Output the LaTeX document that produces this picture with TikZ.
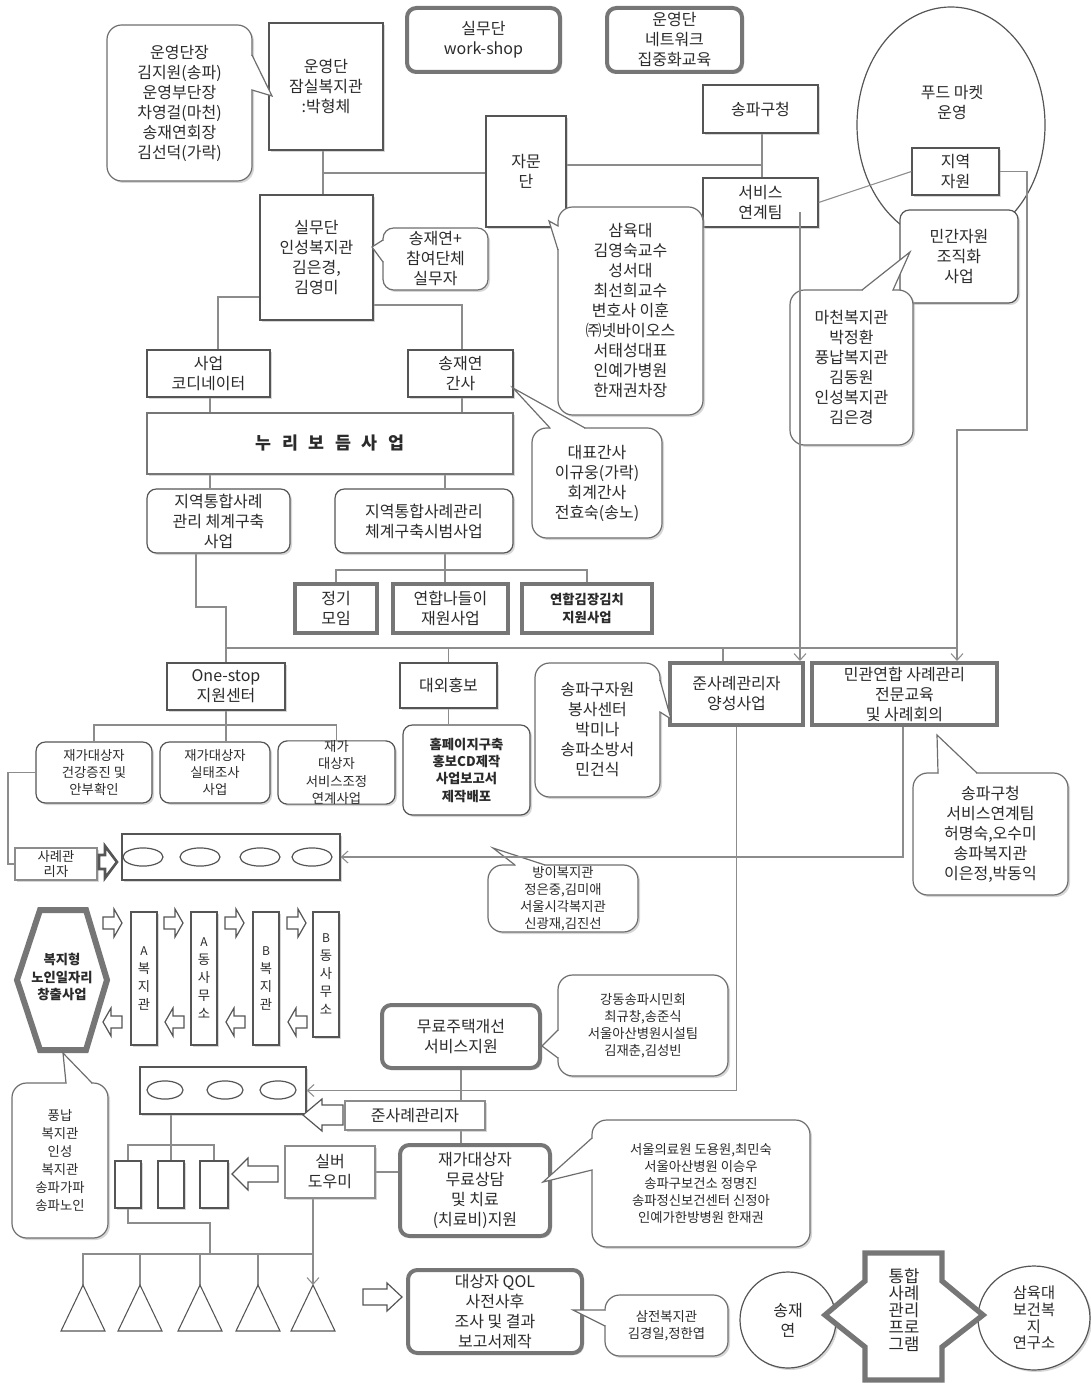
\documentclass[tikz,border=0pt]{standalone}
\usepackage{fontspec}
\setmainfont{Noto Sans CJK KR}
\usetikzlibrary{arrows.meta,shadows,shapes.geometric,backgrounds}
\definecolor{bd}{HTML}{555555}
\definecolor{ln}{HTML}{8C8C8C}
\definecolor{tk}{HTML}{767676}
\definecolor{tx}{HTML}{2B2B2B}
\newcommand\myN{\fontsize{12}{15}\selectfont}
\newcommand\myS{\fontsize{10}{12.8}\selectfont}
\newcommand\mySB{\fontsize{10}{13}\selectfont\bfseries}
\newcommand\myH{\fontsize{10}{13.5}\selectfont}
\newcommand\myC{\fontsize{12.5}{12.7}\selectfont}
\newcommand\myE{\fontsize{11.5}{12.5}\selectfont}
\newcommand\myL[1]{{\fontsize{9}{13.5}\selectfont #1}}
\newcommand\mybox[7][]{%
 \pgfmathsetmacro\bw{(#5-#3)*0.75}%
 \pgfmathsetmacro\bh{(#6-#4)*0.75}%
 \node[inner sep=0pt,minimum width=\bw pt,minimum height=\bh pt,#1] (#2) at ({(#3+#5)/2},{(#4+#6)/2}) {#7};}
\newcommand\ptr[6]{%
 \fill[white] (#1,#2) -- (#5,#6) -- (#3,#4) -- cycle;
 \draw[white,line width=1.8pt,shorten <=0.7pt,shorten >=0.7pt] (#1,#2) -- (#3,#4);
 \draw[bd!85,line width=0.9pt] (#1,#2) -- (#5,#6) -- (#3,#4);}
\newcommand\rarr[6]{\draw[blk] (#1,{#3-#4}) -- ({#2-#6},{#3-#4}) -- ({#2-#6},{#3-#5}) -- (#2,#3) -- ({#2-#6},{#3+#5}) -- ({#2-#6},{#3+#4}) -- (#1,{#3+#4}) -- cycle;}
\newcommand\larr[6]{\draw[blk] (#2,{#3-#4}) -- ({#1+#6},{#3-#4}) -- ({#1+#6},{#3-#5}) -- (#1,#3) -- ({#1+#6},{#3+#5}) -- ({#1+#6},{#3+#4}) -- (#2,{#3+#4}) -- cycle;}
\tikzset{
 every node/.append style={text=tx,align=center},
 shd/.style={drop shadow={shadow xshift=1.5pt,shadow yshift=-1.5pt,fill=black!35,opacity=0.45}},
 bx/.style={draw=bd,line width=0.9pt,fill=white,shd,font=\myN},
 rbx/.style={bx,rounded corners=7pt},
 tbx/.style={draw=tk,line width=3pt,fill=white,shd,font=\myN},
 rtbx/.style={tbx,rounded corners=7pt},
 call/.style={draw=bd!85,line width=0.9pt,fill=white,rounded corners=11pt,shd,font=\myN},
 conn/.style={draw=ln,line width=0.8pt},
 arr/.style={conn,-{Straight Barb[length=5pt,width=9pt]}},
 blk/.style={draw=bd,line width=0.9pt,fill=white,line join=miter},
 oval/.style={draw=bd,line width=0.9pt},
 tri/.style={draw=bd,line width=0.8pt,fill=white},
}
\begin{document}
\begin{tikzpicture}[x=0.75pt,y=-0.75pt]
\useasboundingbox (0,0) rectangle (1090,1383);
% ---------- top ----------
\node[ellipse,draw=bd,line width=0.9pt,minimum width=141pt,minimum height=177pt,inner sep=0pt] (food) at (951,125) {};
\node[font=\myN] (foodt) at (952,102) {푸드 마켓\\운영};
\mybox[call]{cA}{107}{25}{252}{181}{운영단장\\김지원(송파)\\운영부단장\\차영걸(마천)\\송재연회장\\김선덕(가락)}
\mybox[bx]{unyoung}{269}{23}{383}{150}{운영단\\잠실복지관\\:박형체}
\mybox[rtbx]{ws}{407}{8}{560}{72}{실무단\\work-shop}
\mybox[rtbx]{net}{607}{8}{742}{72}{운영단\\네트워크\\집중화교육}
\mybox[bx]{songpa}{703}{85}{818}{133}{송파구청}
\mybox[bx]{jamun}{486}{116}{566}{227}{자문\\단}
\mybox[bx]{service}{703}{178}{818}{227}{서비스\\연계팀}
\mybox[bx]{jiyeok}{912}{148}{999}{195}{지역\\자원}
\mybox[rbx]{mingan}{900}{210}{1018}{303}{민간자원\\조직화\\사업}
\mybox[call]{cB}{790}{290}{913}{445}{마천복지관\\박정환\\풍납복지관\\김동원\\인성복지관\\김은경}
\mybox[bx]{silmu}{260}{195}{373}{320}{실무단\\인성복지관\\김은경,\\김영미}
\mybox[call,rounded corners=8pt]{cC}{383}{228}{488}{290}{송재연+\\참여단체\\실무자}
\mybox[call]{cD}{558}{207}{703}{415}{삼육대\\김영숙교수\\성서대\\최선희교수\\변호사 이훈\\㈜넷바이오스\\서태성대표\\인예가병원\\한재권차장}
\mybox[bx]{coord}{147}{350}{270}{397}{사업\\코디네이터}
\mybox[bx]{gansa}{408}{350}{513}{397}{송재연\\간사}
\mybox[draw=tk,line width=2.2pt,fill=white,shd,font={\fontsize{13}{15}\selectfont\bfseries}]{nuri}{147}{413}{513}{474}{누\hspace{8pt}리\hspace{8pt}보\hspace{8pt}듬\hspace{8pt}사\hspace{8pt}업}
\mybox[call]{cE}{532}{428}{662}{538}{대표간사\\이규웅(가락)\\회계간사\\전효숙(송노)}
\mybox[rbx]{sys1}{147}{489}{290}{553}{지역통합사례\\관리 체계구축\\사업}
\mybox[rbx]{sys2}{335}{489}{513}{553}{지역통합사례관리\\체계구축시범사업}
\mybox[tbx]{reg}{295}{584}{377}{633}{정기\\모임}
\mybox[tbx]{trip}{393}{584}{508}{633}{연합나들이\\재원사업}
\mybox[tbx,font=\mySB]{kimchi}{522}{584}{652}{633}{연합김장김치\\지원사업}
\mybox[bx]{onestop}{167}{663}{285}{710}{One-stop\\지원센터}
\mybox[rbx,font=\myS]{h1}{36}{742}{152}{803}{재가대상자\\건강증진 및\\안부확인}
\mybox[rbx,font=\myS]{h2}{160}{742}{270}{803}{재가대상자\\실태조사\\사업}
\mybox[rbx,font=\myS]{h3}{278}{742}{395}{803}{재가\\대상자\\서비스조정\\연계사업}
\mybox[bx]{pr}{400}{663}{497}{708}{대외홍보}
\mybox[rbx,font=\mySB]{prd}{403}{725}{530}{815}{홈페이지구축\\홍보CD제작\\사업보고서\\제작배포}
\mybox[call]{cF}{535}{663}{660}{797}{송파구자원\\봉사센터\\박미나\\송파소방서\\민건식}
\mybox[tbx]{jun}{670}{663}{803}{725}{준사례관리자\\양성사업}
\mybox[tbx]{mg}{812}{663}{997}{725}{민관연합 사례관리\\전문교육\\및 사례회의}
\mybox[call]{cG}{913}{773}{1068}{895}{송파구청\\서비스연계팀\\허명숙,오수미\\송파복지관\\이은정,박동익}
% ---------- lower ----------
\mybox[bx,draw=ln,line width=1.5pt,font={\fontsize{10}{11.5}\selectfont}]{cm}{15}{848}{97}{880}{사례관\\리자}
\draw[draw=bd,line width=2pt,fill=white,line join=miter] (99,855) -- (105,855) -- (105,846) -- (117,862) -- (105,878) -- (105,869) -- (99,869) -- cycle;
\mybox[bx]{cont1}{122}{834}{340}{880}{}
\foreach \ex in {143,200,260,312} \draw[oval] (\ex,857) ellipse [x radius=15pt, y radius=6.8pt];
\mybox[call,font=\myS]{cH}{488}{865}{638}{932}{방이복지관\\정은중,김미애\\서울시각복지관\\신광재,김진선}
\draw[draw=tk,line width=4.5pt,fill=white,line join=miter] (40,910) -- (86,910) -- (107,980) -- (86,1050) -- (40,1050) -- (17,980) -- cycle;
\node[font=\mySB] (hex) at (62,977) {복지형\\노인일자리\\창출사업};
\mybox[bx,font=\myH]{vb1}{131}{912}{157}{1045}{\myL{A}\\복\\지\\관}
\mybox[bx,font=\myH]{vb2}{191}{912}{217}{1045}{\myL{A}\\동\\사\\무\\소}
\mybox[bx,font=\myH]{vb3}{253}{912}{279}{1045}{\myL{B}\\복\\지\\관}
\mybox[bx,font=\myH]{vb4}{313}{912}{339}{1037}{\myL{B}\\동\\사\\무\\소}
\rarr{103}{122}{923}{6}{14}{8}
\rarr{164}{183}{923}{6}{14}{8}
\rarr{225}{244}{923}{6}{14}{8}
\rarr{287}{306}{923}{6}{14}{8}
\larr{103}{122}{1022}{6}{14}{8}
\larr{165}{184}{1022}{6}{14}{8}
\larr{226}{245}{1022}{6}{14}{8}
\larr{288}{307}{1022}{6}{14}{8}
\mybox[bx]{cont2}{140}{1067}{306}{1114}{}
\foreach \ex in {165,225,278} \draw[oval] (\ex,1090) ellipse [x radius=13.5pt, y radius=6.8pt];
\mybox[bx,draw=ln,line width=1.8pt]{junsa}{345}{1101}{485}{1130}{준사례관리자}
\larr{303}{343}{1115}{10}{16}{19}
\mybox[rtbx]{fh}{382}{1005}{540}{1068}{무료주택개선\\서비스지원}
\mybox[call,font=\myS]{cI}{558}{975}{728}{1076}{강동송파시민회\\최규창,송준식\\서울아산병원시설팀\\김재춘,김성빈}
\mybox[rtbx]{treat}{400}{1145}{550}{1236}{재가대상자\\무료상담\\및 치료\\(치료비)지원}
\mybox[call,font=\myS]{cJ}{592}{1120}{810}{1247}{서울의료원 도용원,최민숙\\서울아산병원 이승우\\송파구보건소 정명진\\송파정신보건센터 신정아\\인예가한방병원 한재권}
\mybox[bx,draw=ln,line width=1.8pt]{silver}{285}{1146}{375}{1198}{실버\\도우미}
\larr{232}{278}{1174}{8}{16}{16}
\mybox[bx]{sb1}{115}{1161}{141}{1208}{}
\mybox[bx]{sb2}{158}{1161}{184}{1208}{}
\mybox[bx]{sb3}{200}{1161}{228}{1208}{}
\coordinate (t1) at (83,1285);
\coordinate (t2) at (140,1285);
\coordinate (t3) at (200,1285);
\coordinate (t4) at (258,1285);
\coordinate (t5) at (313,1285);
\foreach \tt in {t1,t2,t3,t4,t5} \draw[tri] (\tt) -- ++(-22,46) -- ++(44,0) -- cycle;
\rarr{363}{402}{1297}{8}{14}{15}
\mybox[rtbx]{qol}{408}{1270}{582}{1353}{대상자 QOL\\사전사후\\조사 및 결과\\보고서제작}
\mybox[call,font=\myS]{cK}{605}{1295}{728}{1356}{삼전복지관\\김경일,정한엽}
\node[circle,draw=bd,line width=0.9pt,fill=white,shd,minimum size=72pt,inner sep=0pt,font=\myN] (sjy) at (788,1320) {송재\\연};
\node[ellipse,draw=bd,line width=0.9pt,fill=white,shd,minimum width=84pt,minimum height=78pt,inner sep=0pt,font=\myE] (syu) at (1034,1318) {삼육대\\보건복\\지\\연구소};
\draw[draw=tk,line width=4pt,fill=white,line join=miter] (865,1253) -- (942,1253) -- (942,1281) -- (983,1315) -- (942,1347) -- (942,1380) -- (865,1380) -- (865,1347) -- (825,1315) -- (865,1281) -- cycle;
\node[font=\myC] (prog) at (904,1310) {통합\\사례\\관리\\프로\\그램};
\mybox[call,font=\myH]{cL}{12}{1083}{108}{1238}{풍납\\복지관\\인성\\복지관\\송파가파\\송파노인}
% ---------- callout pointers ----------
\ptr{252}{55}{252}{90}{272}{96}
\ptr{862}{290}{893}{290}{910}{252}
\ptr{383}{240}{383}{262}{372}{247}
\ptr{558}{226}{558}{250}{549}{221}
\ptr{550}{428}{585}{428}{513}{388}
\ptr{660}{680}{660}{712}{671}{719}
\ptr{938}{773}{977}{773}{937}{735}
\ptr{515}{865}{545}{865}{493}{848}
\ptr{558}{1030}{558}{1058}{542}{1046}
\ptr{592}{1138}{592}{1170}{543}{1182}
\ptr{605}{1310}{605}{1326}{573}{1310}
\ptr{66}{1083}{92}{1083}{63}{1053}
% ---------- coordinates ----------
\coordinate (k1) at (323,173);
\coordinate (k2) at (762,165);
\coordinate (k3) at (218,297);
\coordinate (k4) at (462,305);
\coordinate (k5) at (210,0);
\coordinate (k6) at (445,570);
\coordinate (k7) at (196,607);
\coordinate (k8) at (225,648);
\coordinate (k9) at (957,430);
\coordinate (k10) at (723,0);
\coordinate (k11) at (0,725);
\coordinate (k12) at (8,772);
\coordinate (k13) at (903,0);
\coordinate (k15) at (0,1145);
\coordinate (k16) at (210,1223);
\coordinate (k17) at (0,1254);
\coordinate (k18) at (1027,430);
\coordinate (k19) at (800,212);
% ---------- connectors on top ----------
\draw[conn] (service.east) -- (jiyeok.west);
\draw[arr] (jiyeok.east) -| (k18) -| (mg.north -| k9);
\draw[arr] (k19) -- (jun.north -| k19);
\draw[arr] (mg.south -| k13) |- (cont1.east);
% ---------- connectors behind ----------
\begin{scope}[on background layer]
\draw[conn] (unyoung.south -| k1) -- (silmu.north -| k1);
\draw[conn] (k1) -- (jamun.west |- k1);
\draw[conn] (jamun.east |- k2) -- (k2);
\draw[conn] (songpa.south -| k2) -- (service.north -| k2);
\draw[conn] (silmu.west |- k3) -- (k3) -- (coord.north -| k3);
\draw[conn] (silmu.east |- k4) -- (k4) -- (gansa.north -| k4);
\draw[conn] (coord.south -| k5) -- (nuri.north -| k5);
\draw[conn] (gansa.south -| k4) -- (nuri.north -| k4);
\draw[conn] (nuri.south -| k5) -- (sys1.north -| k5);
\draw[conn] (nuri.south -| k6) -- (sys2.north -| k6);
\draw[conn] (sys2.south -| k6) -- (trip.north -| k6);
\draw[conn] (reg.north) |- (kimchi.north |- k6) -- (kimchi.north);
\draw[conn] (sys1.south -| k7) -- (k7) -| (onestop.north);
\draw[conn] (onestop.north |- k8) -- (k9 |- k8);
\draw[conn] (pr.north |- k8) -- (pr.north);
\draw[conn] (k10 |- k8) -- (jun.north -| k10);
\draw[conn] (onestop.south) -- (onestop.south |- h2.north);
\draw[conn] (h1.north) |- (h3.north |- k11) -- (h3.north);
\draw[conn] (pr.south) -- (prd.north -| pr.south);
\draw[conn] (h1.west) -- (h1.west -| k12) |- (cm.west);
\draw[arr] (jun.south) |- (cont2.east);
\draw[conn] (fh.south) -- (fh.south |- treat.north);
\draw[conn] (treat.west |- silver.east) -- (silver.east);
\draw[conn] (cont2.south -| sb2.north) -- (sb2.north);
\draw[conn] (sb1.north) |- (sb3.north |- k15) -- (sb3.north);
\draw[conn] (sb1.south) |- (k16) -- (k16 |- k17);
\draw[conn] (t1) |- (t5 |- k17);
\foreach \tt in {t2,t3,t4} \draw[conn] (\tt |- k17) -- (\tt);
\draw[arr] (silver.south -| t5) -- (t5);
\end{scope}
\end{tikzpicture}
\end{document}
